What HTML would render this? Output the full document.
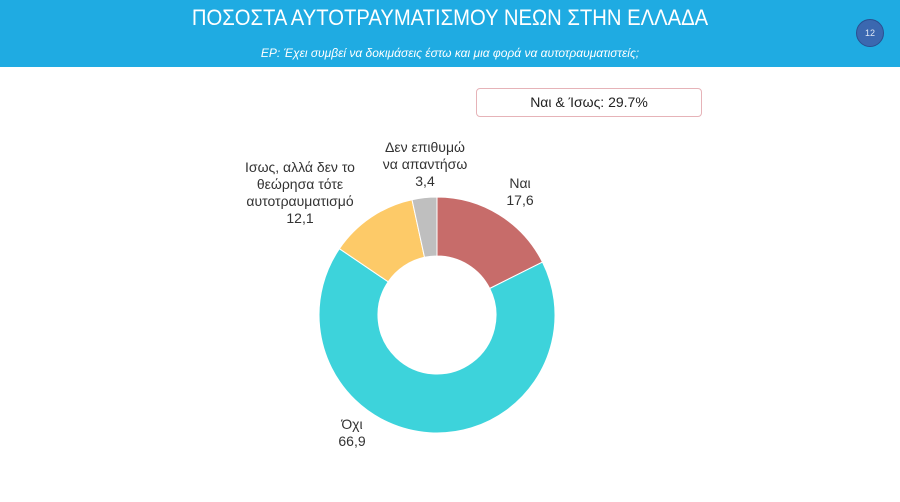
<!DOCTYPE html><html><head><meta charset="utf-8"><style>
body{margin:0;width:900px;height:502px;background:#fff;position:relative;overflow:hidden;font-family:"Liberation Sans",sans-serif}
.hd{position:absolute;left:0;top:0;width:900px;height:67px;background:#1fabe2}
.t{position:absolute;top:5px;left:0;width:900px;text-align:center;color:#fff;font-size:22px;transform:scaleX(0.92)}
.s{position:absolute;top:46px;left:0;width:900px;text-align:center;color:#fff;font-size:12px;font-style:italic}
.b{position:absolute;left:856px;top:19px;width:26px;height:26px;border-radius:50%;background:#3b68b0;border:1px solid #2b4f90;color:#dfe8f5;font-size:9px;text-align:center;line-height:26px}
.box{position:absolute;left:476px;top:88px;width:224px;height:27px;border:1px solid #e6b3b8;border-radius:4px;text-align:center;line-height:27px;font-size:14px;color:#222}
.l{position:absolute;font-size:14px;color:#333;text-align:center;line-height:17px}
</style></head><body>
<div class="hd"><div class="t">ΠΟΣΟΣΤΑ ΑΥΤΟΤΡΑΥΜΑΤΙΣΜΟΥ ΝΕΩΝ ΣΤΗΝ ΕΛΛΑΔΑ</div><div class="s">ΕΡ: Έχει συμβεί να δοκιμάσεις έστω και μια φορά να αυτοτραυματιστείς;</div><div class="b">12</div></div>
<div class="box">Ναι &amp; Ίσως: 29.7%</div>
<svg width="900" height="502" style="position:absolute;left:0;top:0">
<path d="M437 197 A118 118 0 0 1 542.5 262.1 L489.7 288.5 A59 59 0 0 0 437 256Z" fill="#c76c6a" stroke="#fff" stroke-width="1"/>
<path d="M542.5 262.1 A118 118 0 1 1 339.4 248.7 L388.2 281.8 A59 59 0 1 0 489.7 288.5Z" fill="#3dd3db" stroke="#fff" stroke-width="1"/>
<path d="M339.4 248.7 A118 118 0 0 1 412 199.7 L424.5 257.3 A59 59 0 0 0 388.2 281.8Z" fill="#fdca68" stroke="#fff" stroke-width="1"/>
<path d="M412 199.7 A118 118 0 0 1 437 197 L437 256 A59 59 0 0 0 424.5 257.3Z" fill="#bfbfbf" stroke="#fff" stroke-width="1"/>
</svg>
<div class="l" style="left:365px;top:139px;width:120px">Δεν επιθυμώ<br>να απαντήσω<br>3,4</div>
<div class="l" style="left:495px;top:175px;width:50px">Ναι<br>17,6</div>
<div class="l" style="left:220px;top:159px;width:160px">Ισως, αλλά δεν το<br>θεώρησα τότε<br>αυτοτραυματισμό<br>12,1</div>
<div class="l" style="left:327px;top:416px;width:50px">Όχι<br>66,9</div>
</body></html>
